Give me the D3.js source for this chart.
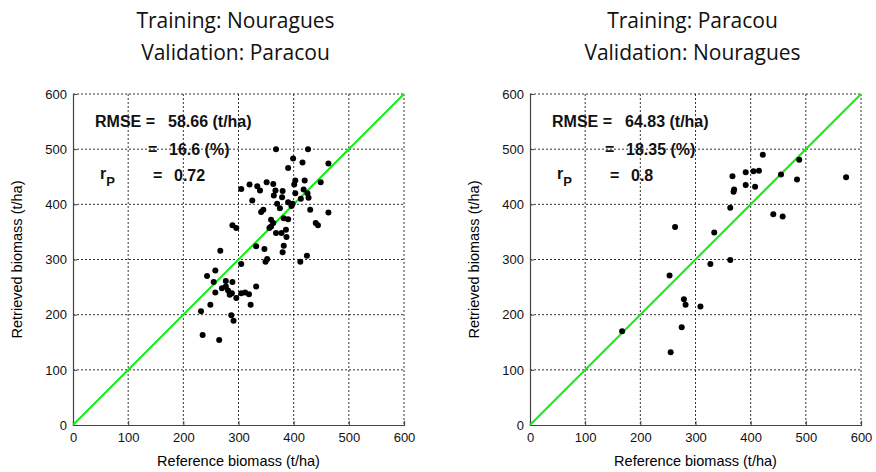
<!DOCTYPE html>
<html lang="en">
<head>
<meta charset="UTF-8">
<title>Biomass cross validation</title>
<script src="https://d3js.org/d3.v7.min.js"></script>
<style>
    body { margin: 0; background: #fff; }
    text { font-family: "Liberation Sans", Arial, sans-serif; }
    .title { font-family: "Open Sans", "Noto Sans", sans-serif; font-size: 21px; fill: #111; }
    .grid line { stroke: #000; stroke-width: 0.8; stroke-dasharray: 2,2; }
    .stats { font-weight: bold; font-size: 16px; fill: #111; }
</style>
</head>
<body>
<svg width="876" height="472"></svg>
<script>
// panel A: training Nouragues, validation Paracou
const refA = [368, 426, 399, 416, 463, 390, 305, 320, 334, 339, 351, 363, 367, 364, 380, 379,
    403, 401, 403, 420, 418, 425, 427, 413, 449, 325, 370, 375, 390, 396, 345, 341, 430, 463,
    359, 363, 356, 359, 368, 378, 386, 382, 390, 387, 382, 380, 440, 444, 289, 296, 332, 347,
    352, 349, 412, 424, 267, 305, 243, 258, 255, 277, 289, 277, 281, 288, 284, 258, 332, 296,
    305, 312, 319, 249, 322, 232, 287, 291, 235, 265, 270, 398];
const retA = [500, 500, 483, 476, 474, 466, 428, 436, 433, 425, 440, 437, 425, 416, 424, 413,
    443, 436, 420, 443, 427, 420, 412, 410, 440, 407, 401, 393, 404, 397, 390, 386, 390, 385,
    372, 366, 357, 360, 348, 348, 354, 375, 373, 341, 325, 313, 366, 362, 362, 357, 324, 319,
    301, 296, 296, 307, 316, 292, 270, 280, 259, 261, 259, 251, 244, 239, 236, 240, 251, 230,
    239, 240, 237, 218, 218, 206, 199, 189, 163, 154, 248, 401];

// panel B: training Paracou, validation Nouragues
const refB = [422, 488, 367, 391, 405, 415, 455, 391, 408, 484, 573, 370, 369, 363, 441, 458,
    263, 334, 327, 363, 253, 279, 282, 309, 275, 167, 255];
const retB = [490, 481, 451, 458, 460, 461, 454, 435, 432, 445, 449, 427, 423, 394, 382, 378,
    359, 349, 292, 299, 271, 228, 218, 215, 177, 170, 132];

const ticks = [0, 100, 200, 300, 400, 500, 600];
const titles = [["Training: Nouragues", "Validation: Paracou"], ["Training: Paracou", "Validation: Nouragues"]];
const rmse = ["58.66", "64.83"];
const rmsePct = ["16.6", "18.35"];
const rP = ["0.72", "0.8"];

const svg = d3.select("svg");
const size = 331;
const panels = [
    { x0: 73, ref: refA, ret: retA },
    { x0: 530, ref: refB, ret: retB }
];
const plotTop = 94;

panels.forEach((p, i) => {
    const x = d3.scaleLinear().domain([0, 600]).range([p.x0, p.x0 + size]);
    const y = d3.scaleLinear().domain([0, 600]).range([plotTop + size, plotTop]);
    const cx = p.x0 + size / 2;

    // titles
    svg.append("text").attr("class", "title").attr("x", cx - 3).attr("y", 28)
        .attr("text-anchor", "middle").text(titles[i][0]);
    svg.append("text").attr("class", "title").attr("x", cx - 3).attr("y", 60)
        .attr("text-anchor", "middle").text(titles[i][1]);

    // grid
    const grid = svg.append("g").attr("class", "grid");
    grid.selectAll(".gx").data(ticks.slice(1, -1)).enter().append("line")
        .attr("x1", d => x(d)).attr("x2", d => x(d)).attr("y1", plotTop).attr("y2", plotTop + size);
    grid.selectAll(".gy").data(ticks.slice(1, -1)).enter().append("line")
        .attr("y1", d => y(d)).attr("y2", d => y(d)).attr("x1", p.x0).attr("x2", p.x0 + size);
    grid.append("line").attr("x1", p.x0).attr("x2", p.x0 + size).attr("y1", plotTop).attr("y2", plotTop);
    grid.append("line").attr("x1", p.x0 + size).attr("x2", p.x0 + size).attr("y1", plotTop).attr("y2", plotTop + size);

    // axes
    const xAxis = svg.append("g").attr("transform", `translate(0,${plotTop + size})`)
        .call(d3.axisBottom(x).tickValues(ticks).tickSize(-4).tickPadding(8));
    const yAxis = svg.append("g").attr("transform", `translate(${p.x0},0)`)
        .call(d3.axisLeft(y).tickValues(ticks).tickSize(-4).tickPadding(6));
    [xAxis, yAxis].forEach(a => {
        a.selectAll("text").style("font-size", "13px").style("fill", "#111");
        a.select(".domain").attr("stroke", "#444").attr("stroke-width", 1.2);
        a.selectAll(".tick line").attr("stroke", "#444");
    });

    svg.append("text").attr("x", cx).attr("y", 466).attr("text-anchor", "middle")
        .style("font-size", "14.5px").text("Reference biomass (t/ha)");
    svg.append("text").attr("transform", `translate(${p.x0 - 51},${plotTop + size / 2}) rotate(-90)`)
        .attr("text-anchor", "middle").style("font-size", "14.5px").text("Retrieved biomass (t/ha)");

    // 1:1 line
    svg.append("line").attr("x1", x(0)).attr("y1", y(0)).attr("x2", x(600)).attr("y2", y(600))
        .attr("stroke", "#11ee11").attr("stroke-width", 2);

    // points
    svg.append("g").selectAll("circle").data(p.ref).enter().append("circle")
        .attr("cx", d => x(d)).attr("cy", (d, j) => y(p.ret[j]))
        .attr("r", 3).attr("fill", "#000");

    // stats text
    const st = svg.append("g").attr("class", "stats");
    const ox = p.x0;
    st.append("text").attr("x", ox + 22).attr("y", 127).text("RMSE =");
    st.append("text").attr("x", ox + 95).attr("y", 127).text(rmse[i] + " (t/ha)");
    st.append("text").attr("x", ox + 75).attr("y", 155).text("=");
    st.append("text").attr("x", ox + 96).attr("y", 155).text(rmsePct[i] + " (%)");
    const r = st.append("text").attr("x", ox + 27).attr("y", 179);
    r.append("tspan").text("r");
    r.append("tspan").attr("dy", 7).style("font-size", "13px").text("P");
    st.append("text").attr("x", ox + 80).attr("y", 181).text("=");
    st.append("text").attr("x", ox + 101).attr("y", 181).text(rP[i]);
});
</script>
</body>
</html>
